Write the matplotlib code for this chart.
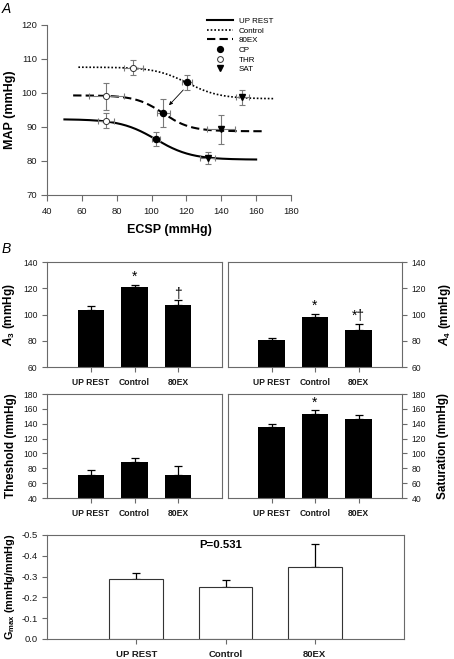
import numpy as np
import matplotlib
matplotlib.use("Agg")
import matplotlib.pyplot as plt
from matplotlib.lines import Line2D

plt.rcParams['font.family'] = ['Liberation Sans', 'DejaVu Sans']
plt.rcParams['axes.unicode_minus'] = False
plt.rcParams['mathtext.fontset'] = 'custom'
plt.rcParams['mathtext.rm'] = 'Liberation Sans'
plt.rcParams['mathtext.it'] = 'Liberation Sans:italic'
plt.rcParams['mathtext.bf'] = 'Liberation Sans:bold'
plt.rcParams['mathtext.bfit'] = 'Liberation Sans:italic:bold'

# ---- data ----
groups = ['UP REST', 'Control', '80EX']

# logistic fit parameters: MAP = A4 + A1 / (1 + exp(A2 * (ECSP - A3)))
fit_a1 = [11.9, 9.3, 10.55]
fit_a2 = [0.098, 0.107, 0.127]
fit_a3 = [102.5, 120.5, 106.7]
fit_a4 = [80.4, 98.3, 88.75]
fit_xmin = [50, 58, 55]
fit_xmax = [160, 170, 165]

# operating points: THR, CP, SAT  (ECSP, ECSP err, MAP, MAP err)
thr_x = [74, 89.5, 74]
thr_xerr = [4.5, 5.4, 10]
thr_y = [91.9, 107.5, 99.0]
thr_yerr = [2.3, 2.3, 4.0]

cp_x = [102.4, 120.5, 106.7]
cp_xerr = [2.4, 2.8, 3.8]
cp_y = [86.4, 103.1, 94.0]
cp_yerr = [2.1, 2.15, 4.1]

sat_x = [132.2, 152.1, 139.8]
sat_xerr = [4.3, 3.7, 8]
sat_y = [80.9, 98.8, 89.3]
sat_yerr = [1.8, 2.2, 4.3]

a3_mean = [103.4, 120.8, 107.3]
a3_sem = [3.3, 1.8, 4.1]
a4_mean = [80.3, 98.0, 88.5]
a4_sem = [2.0, 2.3, 4.5]
thr_mean = [71.5, 88.8, 71.5]
thr_sem = [6.4, 4.6, 11.0]
sat_mean = [136.0, 153.5, 146.3]
sat_sem = [3.0, 5.2, 6.0]
gmax_mean = [-0.289, -0.252, -0.345]
gmax_sem = [0.026, 0.034, 0.11]

W, H = 454, 659
fig = plt.figure(figsize=(W / 100, H / 100), dpi=100)


def px_axes(l, t, r, b):
    return fig.add_axes([l / W, 1 - b / H, (r - l) / W, (b - t) / H])


SPINE = '#6a6a6a'
TXT = '#1a1a1a'

# ---------------- panel A ----------------
ax = px_axes(47, 25, 291, 195)
styles = ['-', (0, (1, 1.2)), (0, (4, 2))]
widths = [1.5, 1.2, 1.5]
for i in range(3):
    xs = np.linspace(fit_xmin[i], fit_xmax[i], 200)
    ys = fit_a4[i] + fit_a1[i] / (1 + np.exp(fit_a2[i] * (xs - fit_a3[i])))
    ax.plot(xs, ys, color='black', linestyle=styles[i], lw=widths[i], zorder=2)

for i in range(3):
    for px, pxe, py, pye in [(thr_x, thr_xerr, thr_y, thr_yerr),
                             (cp_x, cp_xerr, cp_y, cp_yerr),
                             (sat_x, sat_xerr, sat_y, sat_yerr)]:
        ax.errorbar(px[i], py[i], xerr=pxe[i], yerr=pye[i], fmt='none',
                    ecolor='#7a7a7a', elinewidth=0.8, capsize=2, capthick=0.8, zorder=3)

ax.plot(cp_x, cp_y, 'o', color='black', ms=4.4, zorder=4)
ax.plot(thr_x, thr_y, 'o', mfc='white', mec='#333333', mew=0.7, ms=4.4, zorder=4)
ax.plot(sat_x, sat_y, 'v', color='black', ms=4.4, zorder=4)

ax.annotate('', xy=(cp_x[2] + 3.3, cp_y[2] + 2.4), xytext=(cp_x[1] - 2.3, cp_y[1] - 2.2),
            arrowprops=dict(arrowstyle='-|>', color='black', lw=0.6, mutation_scale=5,
                            shrinkA=0, shrinkB=0))

ax.set_xlim(40, 180)
ax.set_ylim(70, 120)
ax.set_xticks(np.arange(40, 181, 20))
ax.set_yticks(np.arange(70, 121, 10))
for s in ['top', 'right']:
    ax.spines[s].set_visible(False)
for s in ['left', 'bottom']:
    ax.spines[s].set_color(SPINE)
    ax.spines[s].set_linewidth(0.8)
ax.tick_params(direction='out', length=4, width=0.8, color=SPINE, labelsize=6.8,
               labelcolor=TXT, pad=3)
ax.tick_params(axis='x', pad=5)
ax.set_ylabel('MAP (mmHg)', fontsize=9, fontweight='bold')
ax.yaxis.set_label_coords(-0.128, 0.5)
ax.set_xlabel('ECSP (mmHg)', fontsize=9, fontweight='bold', va='top')
ax.xaxis.set_label_coords(0.5, -0.17)

handles = [Line2D([], [], color='black', ls=styles[0], lw=widths[0]),
           Line2D([], [], color='black', ls=styles[1], lw=widths[1]),
           Line2D([], [], color='black', ls=styles[2], lw=widths[2]),
           Line2D([], [], color='black', marker='o', ls='none', ms=4.2),
           Line2D([], [], mfc='white', mec='#333333', mew=0.7, marker='o', ls='none', ms=4.2),
           Line2D([], [], color='black', marker='v', ls='none', ms=4.2)]
ax.legend(handles, ['UP REST', 'Control', '80EX', 'CP', 'THR', 'SAT'],
          loc='upper left', bbox_to_anchor=(0.655, 1.045), frameon=False,
          fontsize=5.8, handlelength=3.3, handletextpad=0.7, labelspacing=0.25,
          borderpad=0, borderaxespad=0)

fig.text(2 / W, 1 - 13 / H, 'A', fontsize=10, style='italic')
fig.text(2 / W, 1 - 253 / H, 'B', fontsize=10, style='italic')

# ---------------- panel B bars ----------------
pos = np.arange(1, 4)


def bar_panel(rect, means, sems, ylim, ticks, label, right=False, stars=None):
    b = px_axes(*rect)
    b.bar(pos, means, width=0.6, color='black', zorder=2)
    b.errorbar(pos, means, yerr=[np.zeros(3), sems], fmt='none', ecolor='black',
               elinewidth=0.9, capsize=2.6, capthick=0.9, zorder=1)
    b.set_xlim(0, 4)
    b.set_ylim(*ylim)
    b.set_yticks(ticks)
    b.set_xticks(pos)
    b.set_xticklabels(groups, fontweight='bold', fontsize=6)
    for s in b.spines.values():
        s.set_color(SPINE)
        s.set_linewidth(0.8)
    b.tick_params(direction='out', length=3.3, width=0.8, color=SPINE, labelsize=6.2,
                  labelcolor=TXT)
    b.tick_params(axis='x', pad=4.5, labelsize=6.2)
    if right:
        b.yaxis.tick_right()
        b.yaxis.set_label_position('right')
        b.set_ylabel(label, fontsize=8.5, fontweight='bold', rotation=90)
        b.yaxis.set_label_coords(1.2, 0.5)
    else:
        b.set_ylabel(label, fontsize=8.5, fontweight='bold')
        b.yaxis.set_label_coords(-0.172, 0.5)
    if stars:
        for xi, yi, s in stars:
            b.text(pos[xi], yi, s, ha='center', va='center', fontsize=10)
    return b


bar_panel((47, 262, 222, 367), a3_mean, a3_sem, (60, 140), np.arange(60, 141, 20),
          r'$\mathbfit{A}_\mathbf{3}$ (mmHg)',
          stars=[(1, a3_mean[1] + a3_sem[1] + 6.5, '*'), (2, a3_mean[2] + a3_sem[2] + 4.5, '\u2020')])
bar_panel((228, 262, 402, 367), a4_mean, a4_sem, (60, 140), np.arange(60, 141, 20),
          r'$\mathbfit{A}_\mathbf{4}$ (mmHg)', right=True,
          stars=[(1, a4_mean[1] + a4_sem[1] + 6.5, '*'), (2, a4_mean[2] + a4_sem[2] + 5.5, '*\u2020')])
bar_panel((47, 394, 222, 498), thr_mean, thr_sem, (40, 180), np.arange(40, 181, 20),
          'Threshold (mmHg)')
bar_panel((228, 394, 402, 498), sat_mean, sat_sem, (40, 180), np.arange(40, 181, 20),
          'Saturation (mmHg)', right=True,
          stars=[(1, sat_mean[1] + sat_sem[1] + 9, '*')])

# ---------------- Gmax ----------------
g = px_axes(47, 535, 404, 639)
g.bar(pos, gmax_mean, width=0.6, color='white', edgecolor='#333333', linewidth=0.8, zorder=2)
g.errorbar(pos, gmax_mean, yerr=[gmax_sem, np.zeros(3)], fmt='none', ecolor='black',
           elinewidth=0.9, capsize=3, capthick=0.9, zorder=1)
g.set_xlim(0, 4)
g.set_ylim(0, -0.5)
g.set_yticks(np.arange(0, -0.51, -0.1))
g.set_yticklabels(['0.0', '-0.1', '-0.2', '-0.3', '-0.4', '-0.5'])
g.set_xticks(pos)
g.set_xticklabels(groups, fontweight='bold', fontsize=6.8)
for s in g.spines.values():
    s.set_color(SPINE)
    s.set_linewidth(0.8)
g.tick_params(direction='out', length=3.3, width=0.8, color=SPINE, labelsize=6.8,
              labelcolor=TXT)
g.tick_params(axis='x', pad=4.5)
g.set_ylabel(r'$\mathbf{G}_\mathbf{max}$ (mmHg/mmHg)', fontsize=7.8, fontweight='bold')
g.yaxis.set_label_coords(-0.085, 0.5)
g.text(1.95, -0.45, 'P=0.531', ha='center', va='center', fontsize=8.2, fontweight='bold')

fig.savefig('out.png', dpi=100)
